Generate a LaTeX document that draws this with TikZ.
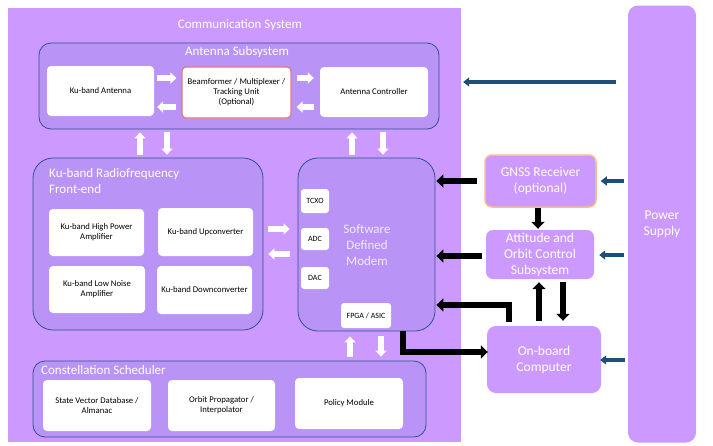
\documentclass[tikz,border=0pt]{standalone}
\usepackage{fontspec}
\setmainfont{Carlito}
\usetikzlibrary{arrows.meta}
\definecolor{outerP}{RGB}{204,153,255}
\definecolor{grpP}{RGB}{185,148,246}
\definecolor{grpB}{RGB}{47,82,143}
\definecolor{bfB}{RGB}{224,120,130}
\definecolor{gnB}{RGB}{248,190,140}
\definecolor{pwB}{RGB}{31,78,121}
\tikzset{
  grp/.style={draw=grpB, line width=0.8pt, fill=grpP, rounded corners=12pt, inner sep=0pt},
  wbox/.style={fill=white, rounded corners=4pt, inner sep=1pt, align=center, text=black, font=\fontsize{8.7}{10}\selectfont},
  sbox/.style={fill=white, rounded corners=3pt, inner sep=0pt, align=center, text=black, font=\fontsize{8}{9}\selectfont},
  pbox/.style={fill=outerP, rounded corners=7pt, inner sep=1pt, align=center, text=white, font=\fontsize{13.5}{16}\selectfont},
  ttl/.style={text=white, font=\fontsize{13}{16}\selectfont, inner sep=0pt, align=left},
  warrow/.style={draw=white, line width=5.5pt, -{Triangle[width=11pt,length=6pt]}},
  barrow/.style={draw=black, line width=5.5pt, line join=miter, -{Triangle[width=13pt,length=7pt]}},
  parrow/.style={draw=pwB, line width=4pt, -{Triangle[width=9pt,length=6pt]}},
}
\begin{document}
\begin{tikzpicture}[x=1pt,y=-1pt]
\useasboundingbox (0,0) rectangle (713,445);
\fill[white] (0,0) rectangle (713,445);
% outer communication system
\node[fill=outerP, minimum width=453, minimum height=434, inner sep=0pt] (comm) at (234.5,225) {};
\node[ttl] (commT) at (240,25) {Communication System};
% power supply
\node[pbox, rounded corners=10pt, minimum width=68, minimum height=437] (ps) at (662,224) {Power\\Supply};
% antenna subsystem
\node[grp, minimum width=400, minimum height=86] (antsub) at (239,86) {};
\node[ttl] (antT) at (237,52) {Antenna Subsystem};
\node[wbox, minimum width=107, minimum height=50] (ant) at (100.5,91) {Ku-band Antenna};
\node[wbox, draw=bfB, line width=1.2pt, minimum width=109, minimum height=51] (bf) at (236.5,92.5) {Beamformer / Multiplexer /\\Tracking Unit\\(Optional)};
\node[wbox, minimum width=108, minimum height=50] (actrl) at (374,92) {Antenna Controller};
% RF front end
\node[grp, rounded corners=20pt, minimum width=230, minimum height=172] (rf) at (148,244) {};
\node[ttl, anchor=north west] (rfT) at (49,168) {Ku-band Radiofrequency\\Front-end};
\node[wbox, minimum width=95, minimum height=47] (hpa) at (96.5,232.5) {Ku-band High Power\\Amplifier};
\node[wbox, minimum width=95, minimum height=48] (upc) at (205.5,232) {Ku-band Upconverter};
\node[wbox, minimum width=96, minimum height=47] (lna) at (97,289.5) {Ku-band Low Noise\\Amplifier};
\node[wbox, minimum width=95, minimum height=48] (dnc) at (204.5,290) {Ku-band Downconverter};
% SDM
\node[grp, rounded corners=20pt, minimum width=137, minimum height=173] (sdm) at (366.5,244.5) {};
\node[ttl, align=center, text=white!80!grpP] (sdmT) at (367,245) {Software\\Defined\\Modem};
\node[sbox, minimum width=28, minimum height=24] (tcxo) at (315,201) {TCXO};
\node[sbox, minimum width=28, minimum height=22] (adc) at (315,239) {ADC};
\node[sbox, minimum width=28, minimum height=22] (dac) at (315,278) {DAC};
\node[sbox, minimum width=50, minimum height=25] (fpga) at (366,315.5) {FPGA / ASIC};
% scheduler
\node[grp, minimum width=393, minimum height=76] (sched) at (229.5,399) {};
\node[ttl, anchor=west] (schedT) at (41,370) {Constellation Scheduler};
\node[wbox, minimum width=108, minimum height=51] (sv) at (97,405.5) {State Vector Database /\\Almanac};
\node[wbox, minimum width=107, minimum height=51] (op) at (221.5,405.5) {Orbit Propagator /\\Interpolator};
\node[wbox, minimum width=108, minimum height=51] (pm) at (349,403.5) {Policy Module};
% right side boxes
\node[pbox, draw=gnB, line width=1.5pt, minimum width=111, minimum height=52] (gnss) at (540.5,181) {GNSS Receiver\\(optional)};
\node[pbox, minimum width=108, minimum height=49] (aocs) at (540,254.5) {Attitude and\\Orbit Control\\Subsystem};
\node[pbox, rounded corners=9pt, minimum width=114, minimum height=67] (obc) at (544,359.5) {On-board\\Computer};
% helper coordinates
\coordinate (e1) at (509,322);
\coordinate (e2) at (403,331);
% white arrows: antenna row
\draw[warrow] ([xshift=3]ant.east |- 0,78) -- ([xshift=-5]bf.west |- 0,78);
\draw[warrow] ([xshift=-5]bf.west |- 0,107) -- ([xshift=3]ant.east |- 0,107);
\draw[warrow] ([xshift=5]bf.east |- 0,78) -- ([xshift=-6]actrl.west |- 0,78);
\draw[warrow] ([xshift=-6]actrl.west |- 0,107) -- ([xshift=5]bf.east |- 0,107);
% vertical white arrows
\draw[warrow] ([yshift=3]rf.north -| 140,0) -- ([yshift=-3]antsub.south -| 140,0);
\draw[warrow] ([yshift=-3]antsub.south -| 167,0) -- ([yshift=3]rf.north -| 167,0);
\draw[warrow] ([yshift=3]sdm.north -| 352,0) -- ([yshift=-3]antsub.south -| 352,0);
\draw[warrow] ([yshift=-3]antsub.south -| 383,0) -- ([yshift=3]sdm.north -| 383,0);
% RF <-> SDM
\draw[warrow] ([xshift=5]rf.east |- 0,229) -- ([xshift=-8]sdm.west |- 0,229);
\draw[warrow] ([xshift=-8]sdm.west |- 0,254) -- ([xshift=5]rf.east |- 0,254);
% SDM <-> scheduler
\draw[warrow] ([yshift=4]sched.north -| 350,0) -- ([yshift=-5]sdm.south -| 350,0);
\draw[warrow] ([yshift=-5]sdm.south -| 381,0) -- ([yshift=4]sched.north -| 381,0);
% black arrows
\draw[barrow] ([xshift=-7]gnss.west) -- ([xshift=1]sdm.east |- gnss.west);
\draw[barrow] ([xshift=-4]aocs.west |- 0,256) -- ([xshift=1]sdm.east |- 0,256);
\draw[barrow] (gnss.south -| 538,0) -- ([yshift=1]aocs.north -| 538,0);
\draw[barrow] ([yshift=5]obc.north -| 539,0) -- ([yshift=-3]aocs.south -| 539,0);
\draw[barrow] ([yshift=-3]aocs.south -| 563,0) -- ([yshift=5]obc.north -| 563,0);
\draw[barrow] (e1) -- (509,305) -- ([xshift=1]sdm.east |- 0,305);
\draw[barrow] (e2) -- (403,352) -- ([xshift=1]obc.west |- 0,352);
% power arrows
\draw[parrow] ([xshift=-12]ps.west |- 0,82) -- ([xshift=2]comm.east |- 0,82);
\draw[parrow] ([xshift=-4]ps.west |- gnss.east) -- ([xshift=4]gnss.east);
\draw[parrow] ([xshift=-4]ps.west |- 0,255) -- ([xshift=5]aocs.east |- 0,255);
\draw[parrow] ([xshift=-3]ps.west |- 0,360) -- ([xshift=-1]obc.east |- 0,360);
\end{tikzpicture}
\end{document}
